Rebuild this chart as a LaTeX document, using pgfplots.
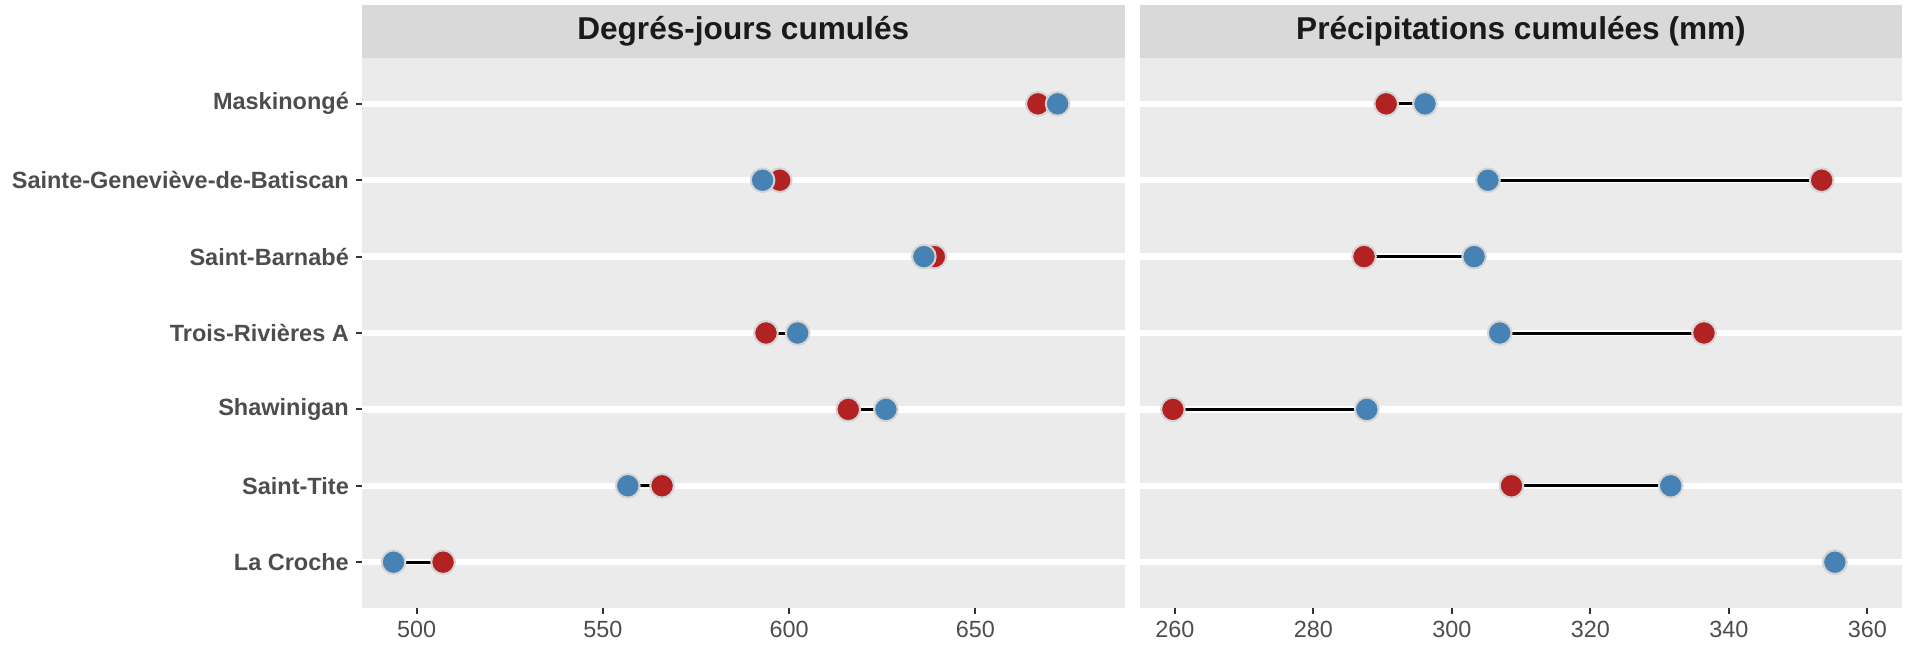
\documentclass[border=0pt]{standalone}
\usepackage{fontspec}
\setmainfont{Liberation Sans}
\usepackage{pgfplots}
\pgfplotsset{compat=1.18}
\usepackage{pgfplotstable}
\definecolor{panelbg}{HTML}{EBEBEB}
\definecolor{stripbg}{HTML}{D9D9D9}
\definecolor{redpt}{HTML}{B22222}
\definecolor{bluept}{HTML}{4682B4}
\definecolor{ptedge}{HTML}{D3D3D3}
\definecolor{labgray}{HTML}{4D4D4D}
\definecolor{titlegray}{HTML}{1A1A1A}
\definecolor{tickgray}{HTML}{333333}

\pgfplotstableread{
y degred degblue prered preblue
1 507.1 493.8 355.3 355.3
2 565.9 556.7 308.6 331.6
3 615.9 626.0 259.7 287.7
4 593.8 602.3 336.4 306.9
5 639.0 636.2 287.3 303.2
6 597.5 592.9 353.4 305.2
7 666.8 672.1 290.5 296.1
}\data

\pgfplotsset{
  dumbbell/.style={
    scale only axis,
    height=275pt,
    anchor=south west,
    ymin=0.4, ymax=7.6,
    ytick={1,2,3,4,5,6,7},
    axis background/.style={fill=panelbg},
    axis line style={draw=none},
    tick align=outside,
    xtick pos=bottom, ytick pos=left,
    ymajorgrids,
    major grid style={white, line width=3.2pt},
    major tick length=2.8pt,
    every tick/.style={tickgray, line width=1pt},
    x tick label style={font=\fontsize{11.7}{13}\selectfont, text=labgray},
    /pgf/number format/assume math mode=true,
    clip=false,
  },
  seg/.style={black, line width=1.5pt, forget plot},
  redmk/.style={only marks, mark=*, mark size=5.9pt, mark options={fill=redpt, draw=ptedge, line width=1pt}},
  bluemk/.style={only marks, mark=*, mark size=5.9pt, mark options={fill=bluept, draw=ptedge, line width=1pt}},
}

\begin{document}
\begin{tikzpicture}
\useasboundingbox (0,0) rectangle (957.5pt,322pt);

\begin{axis}[dumbbell,
  at={(180.75pt,18pt)}, width=381.75pt,
  xmin=485.2, xmax=690.2,
  xtick={500,550,600,650},
  yticklabels={La Croche, Saint-Tite, Shawinigan, Trois-Rivières A, Saint-Barnabé, Sainte-Geneviève-de-Batiscan, Maskinongé},
  y tick label style={font=\bfseries\fontsize{11.75}{13}\selectfont, text=labgray},
]
\addplot[seg] coordinates {(507.1,1) (493.8,1)};
\addplot[seg] coordinates {(565.9,2) (556.7,2)};
\addplot[seg] coordinates {(615.9,3) (626.0,3)};
\addplot[seg] coordinates {(593.8,4) (602.3,4)};
\addplot[seg] coordinates {(639.0,5) (636.2,5)};
\addplot[seg] coordinates {(597.5,6) (592.9,6)};
\addplot[seg] coordinates {(666.8,7) (672.1,7)};
\addplot[redmk] table[x=degred, y=y] {\data};
\addplot[bluemk] table[x=degblue, y=y] {\data};
\fill[stripbg] (rel axis cs:0,1) rectangle ([yshift=26.5pt]rel axis cs:1,1);
\node[font=\bfseries\fontsize{15.8}{17}\selectfont, text=titlegray] at ([yshift=13.25pt]rel axis cs:0.5,1) {Degrés-jours cumulés};
\end{axis}

\begin{axis}[dumbbell,
  at={(570pt,18pt)}, width=381pt,
  xmin=254.95, xmax=365.0,
  xtick={260,280,300,320,340,360},
  yticklabels={},
  y tick style={draw=none},
]
\addplot[seg] coordinates {(355.3,1) (355.3,1)};
\addplot[seg] coordinates {(308.6,2) (331.6,2)};
\addplot[seg] coordinates {(259.7,3) (287.7,3)};
\addplot[seg] coordinates {(336.4,4) (306.9,4)};
\addplot[seg] coordinates {(287.3,5) (303.2,5)};
\addplot[seg] coordinates {(353.4,6) (305.2,6)};
\addplot[seg] coordinates {(290.5,7) (296.1,7)};
\addplot[redmk] table[x=prered, y=y] {\data};
\addplot[bluemk] table[x=preblue, y=y] {\data};
\fill[stripbg] (rel axis cs:0,1) rectangle ([yshift=26.5pt]rel axis cs:1,1);
\node[font=\bfseries\fontsize{15.8}{17}\selectfont, text=titlegray] at ([yshift=13.25pt]rel axis cs:0.5,1) {Précipitations cumulées (mm)};
\end{axis}
\end{tikzpicture}
\end{document}
